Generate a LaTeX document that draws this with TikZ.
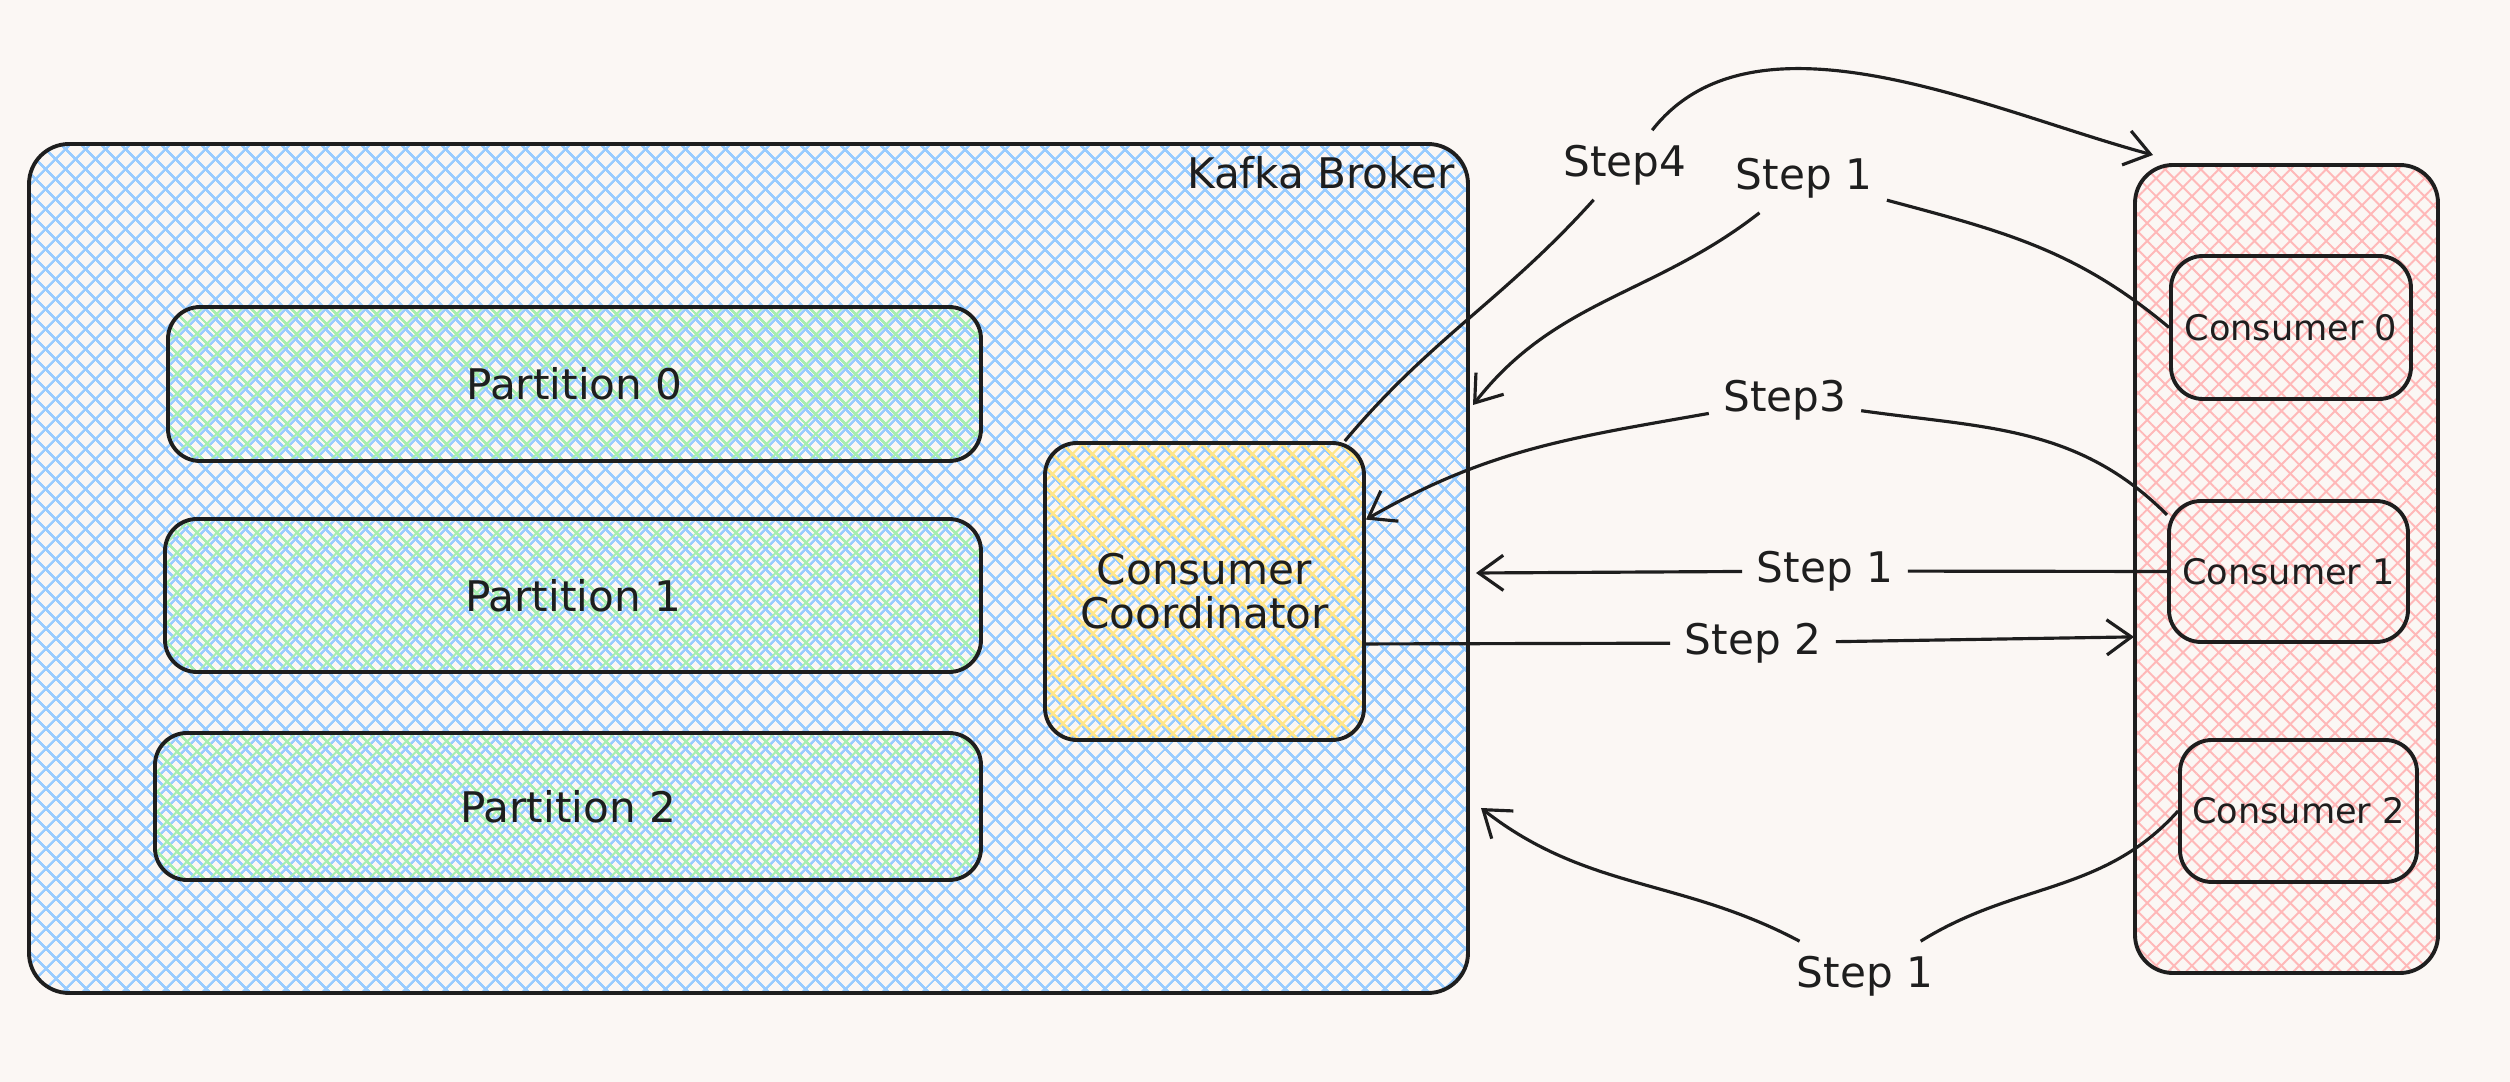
\documentclass[tikz,border=0pt]{standalone}
\usepackage{fontspec}
\setmainfont{DejaVu Sans}
\usetikzlibrary{patterns.meta,arrows.meta}

\definecolor{bg}{HTML}{FBF7F4}
\definecolor{ink}{HTML}{1E1E1E}
\definecolor{hblue}{HTML}{99CCFF}
\definecolor{hgreen}{HTML}{A6EEB0}
\definecolor{hyellow}{HTML}{FFE68A}
\definecolor{hpink}{HTML}{FFB8B8}

\begin{document}
\begin{tikzpicture}[
  roundbox/.style={draw=ink, line width=1.1pt, rounded corners=0.32cm, inner sep=0pt, text=ink,
    font=\fontsize{12}{12.5}\selectfont},
  hatchblue/.style={pattern={Hatch[angle=45,distance=4pt,line width=0.7pt]}, pattern color=hblue},
  hatchgreen/.style={pattern={Hatch[angle=45,distance=4pt,line width=0.65pt,xshift=2.83pt]}, pattern color=hgreen},
  hatchyellow/.style={pattern={Hatch[angle=45,distance=4pt,line width=0.65pt,xshift=2.83pt]}, pattern color=hyellow},
  hatchpink/.style={pattern={Hatch[angle=45,distance=3.6pt,line width=0.55pt]}, pattern color=hpink},
  lbltxt/.style={text=ink, font=\fontsize{12}{14}\selectfont, inner sep=4pt},
  flow/.style={draw=ink, line width=0.9pt},
  tip/.style={-{Straight Barb[length=7pt,width=10pt]}}
]
\useasboundingbox (0,0) rectangle (25.10,10.82);
\fill[bg] (0,0) rectangle (25.10,10.82);

% broker side
\node[roundbox, hatchblue, rounded corners=0.4cm, minimum width=14.39cm, minimum height=8.49cm] (broker) at (7.485,5.135) {};
\node[lbltxt] (brokerlbl) at (13.21,9.09) {Kafka Broker};

\node[roundbox, hatchgreen, minimum width=8.13cm, minimum height=1.54cm] (p0) at (5.745,6.98) {Partition 0};
\node[roundbox, hatchgreen, minimum width=8.16cm, minimum height=1.53cm] (p1) at (5.73,4.865) {Partition 1};
\node[roundbox, hatchgreen, minimum width=8.26cm, minimum height=1.47cm] (p2) at (5.68,2.755) {Partition 2};

\node[roundbox, hatchyellow, align=center, minimum width=3.19cm, minimum height=2.97cm] (coord) at (12.045,4.905) {Consumer\\Coordinator};

% consumer group
\node[roundbox, hatchpink, rounded corners=0.38cm, minimum width=3.03cm, minimum height=8.08cm] (group) at (22.865,5.13) {};
\node[roundbox, font=\fontsize{10}{12}\selectfont, minimum width=2.40cm, minimum height=1.43cm] (c0) at (22.91,7.545) {Consumer 0};
\node[roundbox, font=\fontsize{10}{12}\selectfont, minimum width=2.39cm, minimum height=1.41cm] (c1) at (22.885,5.105) {Consumer 1};
\node[roundbox, font=\fontsize{10}{12}\selectfont, minimum width=2.37cm, minimum height=1.42cm] (c2) at (22.985,2.71) {Consumer 2};

% labels on the arrows
\node[lbltxt] (s4) at (16.25,9.17) {Step4};
\node[lbltxt] (s1a) at (18.04,9.04) {Step 1};
\node[lbltxt] (s3) at (17.85,6.82) {Step3};
\node[lbltxt] (s1b) at (18.25,5.11) {Step 1};
\node[lbltxt] (s2) at (17.53,4.39) {Step 2};
\node[lbltxt] (s1c) at (18.65,1.06) {Step 1};

\coordinate (in1) at (14.73,6.77);
\coordinate (in2) at (14.76,5.09);
\coordinate (in3) at (14.81,2.74);
\coordinate (grouptop) at (21.53,9.27);

\draw[flow] (coord.47) to[out=50,in=228] (s4);
\draw[flow,tip] (s4) to[out=52,in=165,looseness=0.85] (grouptop);

\draw[flow] (c0.west) to[out=140,in=-15] (s1a);
\draw[flow,tip] (s1a) to[out=218,in=52] (in1);

\draw[flow] (c1.155) to[out=135,in=-8] (s3);
\draw[flow,tip] (s3) to[out=190,in=30] (coord.24);

\draw[flow] (c1.west) -- (s1b);
\draw[flow,tip] (s1b) -- (in2);

\draw[flow] (coord.342) -- (s2);
\draw[flow,tip] (s2) -- (group.204);

\draw[flow] (c2.west) to[out=228,in=32] (s1c);
\draw[flow,tip] (s1c) to[out=152,in=-38] (in3);
\end{tikzpicture}
\end{document}
